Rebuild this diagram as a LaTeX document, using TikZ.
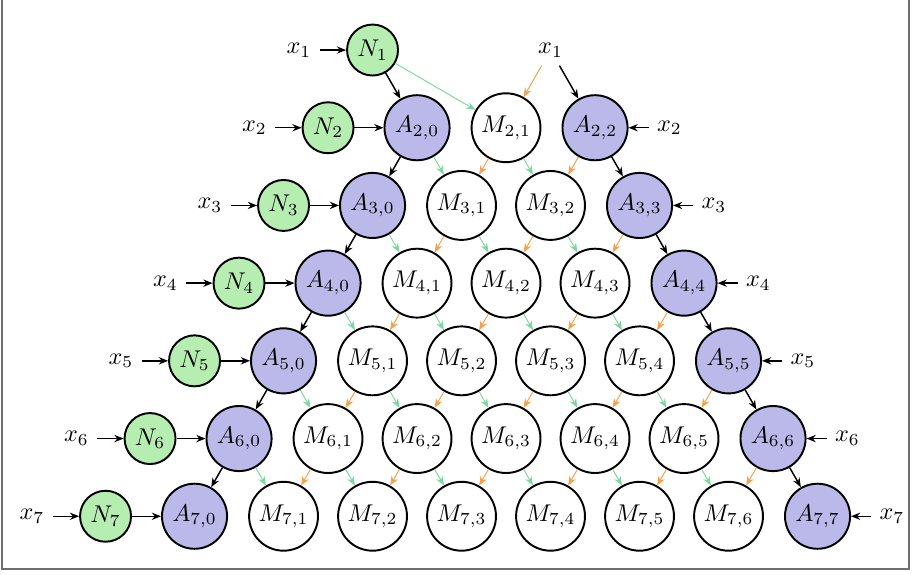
\documentclass[tikz,border=0pt]{standalone}
\usepackage{amsmath, amssymb}
\usepackage{tikz}
\usetikzlibrary{positioning, arrows.meta}

\definecolor{nfill}{HTML}{B6EEB1}
\definecolor{afill}{HTML}{BAB9E9}
\definecolor{gedge}{HTML}{7DD89C}
\definecolor{oedge}{HTML}{F5A04C}
\definecolor{framegray}{HTML}{6E6E6E}

\begin{document}
\begin{tikzpicture}[
      x=0.646cm, y=1.128cm,
      node_n/.style={circle, draw, thick, fill=nfill, minimum size=0.74cm, inner sep=1pt},
      node_a/.style={circle, draw, thick, fill=afill, minimum size=0.945cm, inner sep=1pt},
      node_m/.style={circle, draw, thick, fill=white, minimum size=1cm, inner sep=1pt},
      node_lbl/.style={draw=none},
      edge_path/.style={-{Stealth[length=3.8pt, width=3pt]}, semithick},
      edge_left/.style={edge_path, draw=gedge, thin},
      edge_right/.style={edge_path, draw=oedge, thin}
    ]
      \useasboundingbox (-11.372,-0.356) rectangle (9.168,-7.744);
      \draw[framegray, line width=0.8pt] (-11.331,-0.356) -- (-11.331,-7.682) -- (9.059,-7.682) -- (9.059,-0.356);

      % inputs on the left
      \foreach \i in {1,...,7}{
        \node[node_n] (N\i) at ({-2-\i}, -\i) {$N_{\i}$};
        \node[node_lbl, left=0.38cm of N\i] (xl\i) {$x_{\i}$};
        \draw[edge_path] (xl\i) -- (N\i);
      }

      % outer cells of each row
      \foreach \i in {2,...,7}{
        \node[node_a] (g-\i-0) at (-\i, -\i) {$A_{\i,0}$};
        \node[node_a] (g-\i-\i) at (\i, -\i) {$A_{\i,\i}$};
        \node[node_lbl, right=0.29cm of g-\i-\i] (xr\i) {$x_{\i}$};
        \draw[edge_path] (N\i) -- (g-\i-0);
        \draw[edge_path] (xr\i) -- (g-\i-\i);
      }

      % inner cells
      \foreach \i in {2,...,7}{
        \pgfmathtruncatemacro\jmax{\i-1}
        \foreach \j in {1,...,\jmax}{
          \node[node_m] (g-\i-\j) at ({2*\j-\i}, -\i) {$M_{\i,\j}$};
        }
      }

      % top row
      \node[node_lbl] (xr1) at (1,-1) {$x_{1}$};
      \draw[edge_path] (N1) -- (g-2-0);
      \draw[edge_left] (N1) -- (g-2-1);
      \draw[edge_right] (xr1) -- (g-2-1);
      \draw[edge_path] (xr1) -- (g-2-2);

      % links from row i to row i+1
      \foreach \i in {2,...,6}{
        \pgfmathtruncatemacro\k{\i+1}
        \pgfmathtruncatemacro\jmax{\i-1}
        \draw[edge_path] (g-\i-0) -- (g-\k-0);
        \draw[edge_path] (g-\i-\i) -- (g-\k-\k);
        \foreach \j in {1,...,\i}{
          \draw[edge_right] (g-\i-\j) -- (g-\k-\j);
        }
        \foreach \j in {0,...,\jmax}{
          \pgfmathtruncatemacro\jn{\j+1}
          \draw[edge_left] (g-\i-\j) -- (g-\k-\jn);
        }
      }
    \end{tikzpicture}
\end{document}
